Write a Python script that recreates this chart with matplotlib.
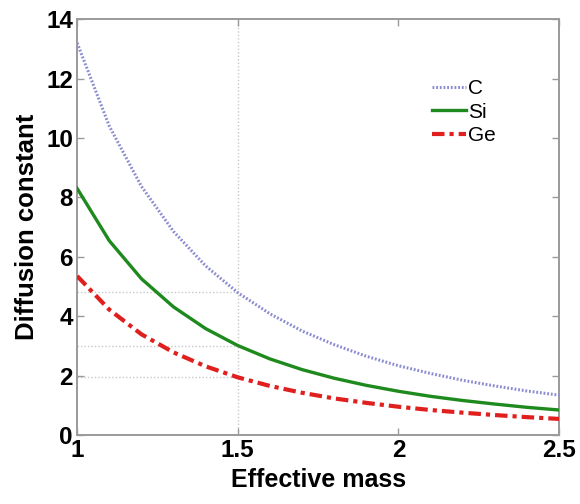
import matplotlib
matplotlib.use("Agg")
import matplotlib.pyplot as plt

# --- Data ---
mass = [1.0, 1.1, 1.2, 1.3, 1.4, 1.5, 1.6, 1.7, 1.8, 1.9, 2.0, 2.1, 2.2, 2.3, 2.4, 2.5]
d_c = [13.2, 10.40, 8.37, 6.85, 5.69, 4.79, 4.08, 3.50, 3.04, 2.65, 2.33, 2.07, 1.84, 1.65, 1.48, 1.34]
d_si = [8.3, 6.54, 5.26, 4.31, 3.58, 3.01, 2.56, 2.20, 1.91, 1.67, 1.47, 1.30, 1.16, 1.04, 0.93, 0.84]
d_ge = [5.35, 4.22, 3.39, 2.78, 2.31, 1.94, 1.65, 1.42, 1.23, 1.08, 0.95, 0.84, 0.75, 0.67, 0.60, 0.54]

labels = ["C", "Si", "Ge"]
x_ticks = [1, 1.5, 2, 2.5]
x_tick_labels = ["1", "1.5", "2", "2.5"]
y_ticks = [0, 2, 4, 6, 8, 10, 12, 14]

# guide lines at m = 1.5
guide_x = 1.5
guide_y = [4.8, 3.0, 1.95]

plt.rcParams["font.family"] = ["Liberation Sans", "DejaVu Sans"]

fig = plt.figure(figsize=(5.8, 5.04), dpi=100)
ax = fig.add_axes([0.133, 0.137, 0.831, 0.825])

grid_col = "#c8c8c8"
ax.axvline(guide_x, color=grid_col, lw=1.0, ls=(0, (1, 1.5)), zorder=1)
for gy in guide_y:
    ax.plot([1.0, guide_x], [gy, gy], color=grid_col, lw=1.0, ls=(0, (1, 1.5)), zorder=1)

ax.plot(mass, d_c, color="#8c8cd2", lw=2.2, ls=(0, (0.6, 0.6)), label=labels[0], zorder=3)
ax.plot(mass, d_si, color="#1e8a1e", lw=2.4, ls="-", label=labels[1], zorder=3)
ax.plot(mass, d_ge, color="#e01f1f", lw=3.0, ls=(0, (3, 1.2, 1, 1.2)), label=labels[2], zorder=3)

ax.set_xlim(1, 2.5)
ax.set_ylim(0, 14)
ax.set_xticks(x_ticks)
ax.set_xticklabels(x_tick_labels)
ax.set_yticks(y_ticks)

for sp in ax.spines.values():
    sp.set_color("#9a9a9a")
    sp.set_linewidth(1.4)

ax.tick_params(direction="in", length=5, width=1, color="#9a9a9a",
               top=True, right=True, labelsize=17.5, pad=3)
for t in ax.get_xticklabels() + ax.get_yticklabels():
    t.set_fontweight("bold")

ax.set_xlabel("Effective mass", fontsize=18, fontweight="bold", labelpad=4)
ax.set_ylabel("Diffusion constant", fontsize=18.5, fontweight="bold", labelpad=5)

ax.legend(loc="upper left", bbox_to_anchor=(0.72, 0.875), frameon=False,
          fontsize=15, handlelength=1.6, handletextpad=0.1, labelspacing=0.2,
          borderaxespad=0)

fig.savefig("out.png", dpi=100)
